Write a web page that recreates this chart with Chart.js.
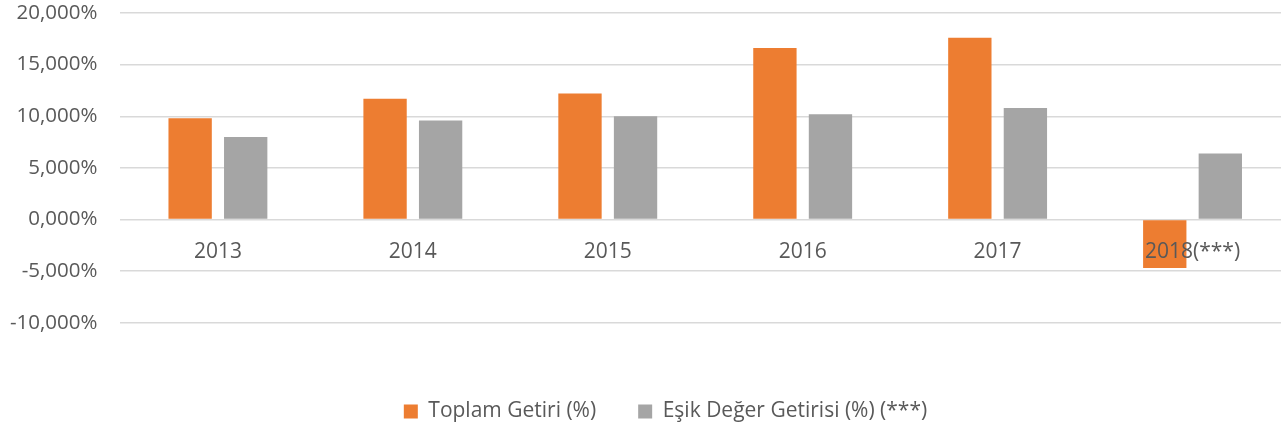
<!DOCTYPE html>
<html>
<head>
<meta charset="utf-8">
<script src="https://cdn.jsdelivr.net/npm/chart.js@4.4.0/dist/chart.umd.min.js"></script>
<style>
  html, body { margin: 0; padding: 0; background: #fff; overflow: hidden; }
  /* plot runs a little past the right edge in the original, so the canvas is wider than the window */
  #wrap { width: 1281px; height: 429px; overflow: hidden; }
</style>
</head>
<body>
<div id="wrap"><canvas id="returns-chart" width="1290" height="429"></canvas></div>
<script>
// -------------- Data --------------
const years = ["2013", "2014", "2015", "2016", "2017", "2018(***)"];
const totalReturn = [9.8, 11.7, 12.2, 16.6, 17.6, -4.7];
const benchmarkReturn = [8.0, 9.6, 10.0, 10.2, 10.8, 6.4];
const seriesNames = ["Toplam Getiri (%)", "Eşik Değer Getirisi (%) (***)"];

const textColor = '#595959';
const gridColor = '#d9d9d9';
Chart.defaults.font.family = "'Open Sans', sans-serif";

// turkish style number: 10,000%
const fmtPct = v => v.toFixed(3).replace('.', ',') + '%';

const returnsData = {
    labels: years,
    datasets: [{
        label: seriesNames[0],
        data: totalReturn,
        backgroundColor: '#ED7D31',
        categoryPercentage: 0.57,
        barPercentage: 0.78
    }, {
        label: seriesNames[1],
        data: benchmarkReturn,
        backgroundColor: '#A5A5A5',
        categoryPercentage: 0.57,
        barPercentage: 0.78
    }]
};

// legend in the original sits a bit right of the canvas centre
const legendShift = {
    id: 'legendShift',
    afterLayout(chart) {
        chart.legend.left += 27;
        chart.legend.right += 27;
    }
};

const returnsOptions = {
    responsive: false,
    animation: false,
    layout: {
        // y ticks padding is counted twice by chart.js, pull the axis back left
        padding: { top: 13, left: -13, right: 0, bottom: -3 }
    },
    scales: {
        x: {
            position: { y: 0 },
            grid: { display: false },
            border: { display: false },
            // axis sits on the zero line, it should not eat layout space
            afterFit: s => { s.height = 0; },
            ticks: {
                z: 1, // labels on top of the bars, like the original
                color: textColor,
                font: { size: 21 },
                padding: 12,
                maxRotation: 0
            }
        },
        y: {
            min: -10,
            max: 20,
            grid: { color: gridColor, lineWidth: 1.5, drawTicks: false },
            border: { display: false },
            afterFit: s => { s.paddingTop = 0; s.paddingBottom = 0; },
            ticks: {
                stepSize: 5,
                color: textColor,
                font: { size: 20.5 },
                padding: 23,
                callback: v => fmtPct(v)
            }
        }
    },
    plugins: {
        legend: {
            position: 'bottom',
            title: {
                display: true,
                text: ' ',
                font: { size: 1 },
                padding: { top: 35, bottom: 0 }
            },
            labels: {
                color: textColor,
                font: { size: 21 },
                boxWidth: 14,
                boxHeight: 14,
                padding: 42
            }
        },
        tooltip: { enabled: false }
    }
};

const returnsChart = new Chart(document.getElementById('returns-chart'), {
    type: 'bar',
    data: returnsData,
    options: returnsOptions,
    plugins: [legendShift]
});
</script>
</body>
</html>
